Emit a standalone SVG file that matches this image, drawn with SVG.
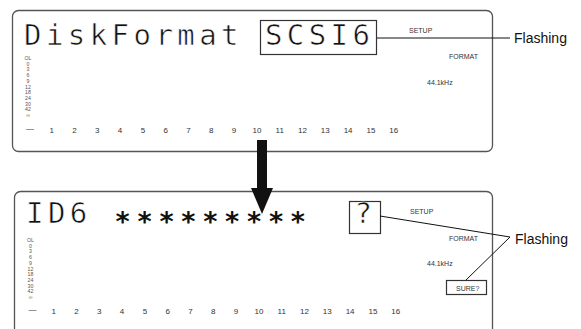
<svg xmlns="http://www.w3.org/2000/svg" width="581" height="329" viewBox="0 0 581 329">
<style>
.panel{fill:#fff;stroke:#555;stroke-width:1.3}
.lcd{font-family:"DejaVu Sans Mono",monospace;font-size:29px;fill:#111;stroke:#fff;stroke-width:0.6}
.ast{font-family:"DejaVu Sans Mono",monospace;font-size:27px;font-weight:bold;fill:#111}
.small{font-family:"Liberation Sans",Arial,sans-serif;font-size:7px;fill:#333}
.meter{font-family:"Liberation Sans",Arial,sans-serif;font-size:5.2px;fill:#555;text-anchor:middle}
.num{font-family:"Liberation Sans",Arial,sans-serif;font-size:8px;fill:#333;text-anchor:middle}
.label{font-family:"Liberation Sans",Arial,sans-serif;font-size:14px;fill:#111}
.box{fill:none;stroke:#333;stroke-width:1.2}
.lead{stroke:#111;stroke-width:1;fill:none}
</style>
<rect width="581" height="329" fill="#fff"/>
<g id="panel-top">
  <rect class="panel" x="12.5" y="10.5" width="480" height="141" rx="6"/>
  <text class="lcd" x="24 45.9 67.8 89.7 111.6 133.5 155.4 177.3 199.2 221.1" y="45">DiskFormat</text>
  <rect class="box" x="260.5" y="20.5" width="116" height="34"/>
  <text class="lcd" x="264.9 286.8 308.7 330.6 352.5" y="45">SCSI6</text>
  <text class="small" x="409" y="33">SETUP</text>
  <text class="small" x="449" y="59">FORMAT</text>
  <text class="small" x="427" y="85">44.1kHz</text>
  <g class="meter">
    <text x="28" y="60">OL</text><text x="28" y="65.7">0</text><text x="28" y="71.4">3</text><text x="28" y="77.1">6</text><text x="28" y="82.8">9</text><text x="28" y="88.5">12</text><text x="28" y="94.2">18</text><text x="28" y="99.9">24</text><text x="28" y="105.6">30</text><text x="28" y="111.3">42</text><text x="28" y="117">∞</text>
  </g>
  <text class="num" x="30" y="131">—</text>
  <g class="num">
    <text x="51.7" y="133">1</text><text x="74.5" y="133">2</text><text x="97.3" y="133">3</text><text x="120.1" y="133">4</text><text x="142.9" y="133">5</text><text x="165.7" y="133">6</text><text x="188.5" y="133">7</text><text x="211.3" y="133">8</text><text x="234.1" y="133">9</text><text x="256.9" y="133">10</text><text x="279.7" y="133">11</text><text x="302.5" y="133">12</text><text x="325.3" y="133">13</text><text x="348.1" y="133">14</text><text x="370.9" y="133">15</text><text x="393.7" y="133">16</text>
  </g>
</g>
<g id="panel-bottom">
  <rect class="panel" x="14.5" y="191.5" width="478" height="160" rx="6"/>
  <text class="lcd" x="26 47.9 69.8" y="223">ID6</text>
  <text class="ast" x="114.6 136.5 158.4 180.3 202.2 224.1 246 267.9 289.8" y="231">*********</text>
  <rect class="box" x="349.5" y="201.5" width="31" height="32"/>
  <text class="lcd" x="354.5" y="223">?</text>
  <text class="small" x="410" y="214">SETUP</text>
  <text class="small" x="449" y="241">FORMAT</text>
  <text class="small" x="427" y="266">44.1kHz</text>
  <rect class="box" x="446.5" y="280.5" width="40" height="14"/>
  <text class="small" x="456" y="291">SURE?</text>
  <g class="meter">
    <text x="30.5" y="242">OL</text><text x="30.5" y="247.7">0</text><text x="30.5" y="253.4">3</text><text x="30.5" y="259.1">6</text><text x="30.5" y="264.8">9</text><text x="30.5" y="270.5">12</text><text x="30.5" y="276.2">18</text><text x="30.5" y="281.9">24</text><text x="30.5" y="287.6">30</text><text x="30.5" y="293.3">42</text><text x="30.5" y="299">∞</text>
  </g>
  <text class="num" x="32.5" y="312">—</text>
  <g class="num">
    <text x="53.7" y="314">1</text><text x="76.5" y="314">2</text><text x="99.3" y="314">3</text><text x="122.1" y="314">4</text><text x="144.9" y="314">5</text><text x="167.7" y="314">6</text><text x="190.5" y="314">7</text><text x="213.3" y="314">8</text><text x="236.1" y="314">9</text><text x="258.9" y="314">10</text><text x="281.7" y="314">11</text><text x="304.5" y="314">12</text><text x="327.3" y="314">13</text><text x="350.1" y="314">14</text><text x="372.9" y="314">15</text><text x="395.7" y="314">16</text>
  </g>
</g>
<g id="label-flashing-top"><text class="label" x="514" y="43">Flashing</text></g>
<g id="label-flashing-bottom"><text class="label" x="515" y="244">Flashing</text></g>
<g id="connectors">
  <path class="lead" d="M377 38 H510"/>
  <path class="lead" d="M380 216 L510 237 L466 280"/>
  <rect x="257" y="140" width="10" height="49" fill="#111"/>
  <polygon points="251,188 273,188 262,214" fill="#111"/>
</g>
</svg>
